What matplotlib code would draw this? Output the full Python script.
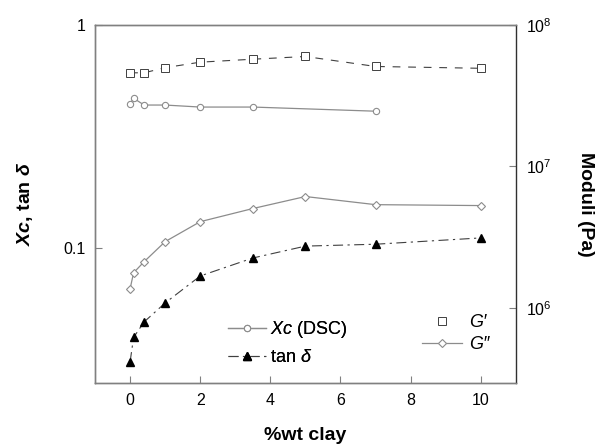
import matplotlib
matplotlib.use("Agg")
import matplotlib.pyplot as plt
from matplotlib.lines import Line2D

plt.rcParams['font.family'] = ['Liberation Sans', 'DejaVu Sans']
plt.rcParams['mathtext.fontset'] = 'custom'
plt.rcParams['mathtext.rm'] = 'Liberation Sans'
plt.rcParams['mathtext.it'] = 'Liberation Sans:italic'
plt.rcParams['mathtext.bf'] = 'Liberation Sans:bold:italic'

# %wt clay
x_xc = [0, 0.1, 0.4, 1, 2, 3.5, 7]
xc = [0.442, 0.47, 0.438, 0.438, 0.429, 0.429, 0.411]

x_mod = [0, 0.1, 0.4, 1, 2, 3.5, 5, 7, 10]
tan_d = [0.0308, 0.0397, 0.0466, 0.0567, 0.0749, 0.0902, 0.102, 0.104, 0.111]

x_gp = [0, 0.4, 1, 2, 3.5, 5, 7, 10]
g_p = [4.6e7, 4.6e7, 5.0e7, 5.47e7, 5.74e7, 6.0e7, 5.1e7, 4.95e7]

g_pp = [1.36e6, 1.77e6, 2.12e6, 2.94e6, 4.07e6, 5.04e6, 6.13e6, 5.37e6, 5.29e6]

xticks = [0, 2, 4, 6, 8, 10]

fig = plt.figure(figsize=(6.09, 4.44), dpi=100)
ax = fig.add_axes([0.156, 0.1374, 0.691, 0.806])
ax2 = ax.twinx()

gray = '#8c8c8c'
dark = '#404040'

# left axis: crystallinity and loss tangent
l1, = ax.plot(x_xc, xc, '-', color=gray, lw=0.9, marker='o', ms=4.5,
              mfc='white', mec=gray, mew=0.8)
l2, = ax.plot(x_mod, tan_d, color=dark, lw=0.8, ls=(0, (9, 4, 2, 4)),
              marker='^', ms=5.5, mfc='black', mec='black')

# right axis: storage and loss moduli
l3, = ax2.plot(x_gp, g_p, color=dark, lw=0.8, ls=(0, (7, 7)), marker='s',
               ms=5.5, mfc='white', mec=dark, mew=0.7)
l4, = ax2.plot(x_mod, g_pp, '-', color=gray, lw=0.9, marker='D', ms=4,
               mfc='white', mec=gray, mew=0.8)

ax.set_yscale('log')
ax.set_ylim(0.0248, 1)
ax.set_yticks([0.1, 1])
ax.set_yticklabels(['0.1', '1'])
ax.minorticks_off()
ax.set_xlim(-1, 11)
ax.set_xticks(xticks)

ax2.set_yscale('log')
ax2.set_ylim(2.94e5, 1e8)
ax2.set_yticks([1e6, 1e7, 1e8])
ax2.minorticks_off()

for a in (ax, ax2):
    a.tick_params(direction='in', length=5, width=0.8, color='#808080',
                  labelsize=11.5, pad=7)
    for s in a.spines.values():
        s.set_color('#808080')
        s.set_linewidth(1.0)
ax.spines['right'].set_visible(False)
ax2.spines['right'].set_color('#303030')

ax.set_xlabel('%wt clay', fontsize=14, fontweight='bold', labelpad=14)
ax.set_ylabel(r'$\mathbf{Xc}$, tan $\mathbf{\delta}$', fontsize=14,
              fontweight='bold', labelpad=20)
ax2.set_ylabel('Moduli (Pa)', fontsize=14, fontweight='bold', rotation=-90,
               labelpad=31)

leg1 = ax.legend([l1, l2], [r'$Xc$ (DSC)', r'tan $\delta$'],
                 loc='upper left', bbox_to_anchor=(228 / 609, 1 - 319 / 444),
                 bbox_transform=fig.transFigure, frameon=False, fontsize=13,
                 handlelength=2.1, handletextpad=0.2, labelspacing=0.5,
                 borderpad=0, borderaxespad=0)
ax.add_artist(leg1)

gp_handle = Line2D([], [], ls='none', marker='s', ms=5.5, mfc='white',
                   mec=dark, mew=0.7)
ax2.legend([gp_handle, l4], ["G\u2032", "G\u2033"], loc='upper left',
           bbox_to_anchor=(422 / 609, 1 - 314 / 444),
           bbox_transform=fig.transFigure, frameon=False,
           prop={'size': 13, 'style': 'italic'},
           handlelength=2.2, handletextpad=0.4, labelspacing=0.3,
           borderpad=0, borderaxespad=0)

fig.savefig('out.png', dpi=100)
